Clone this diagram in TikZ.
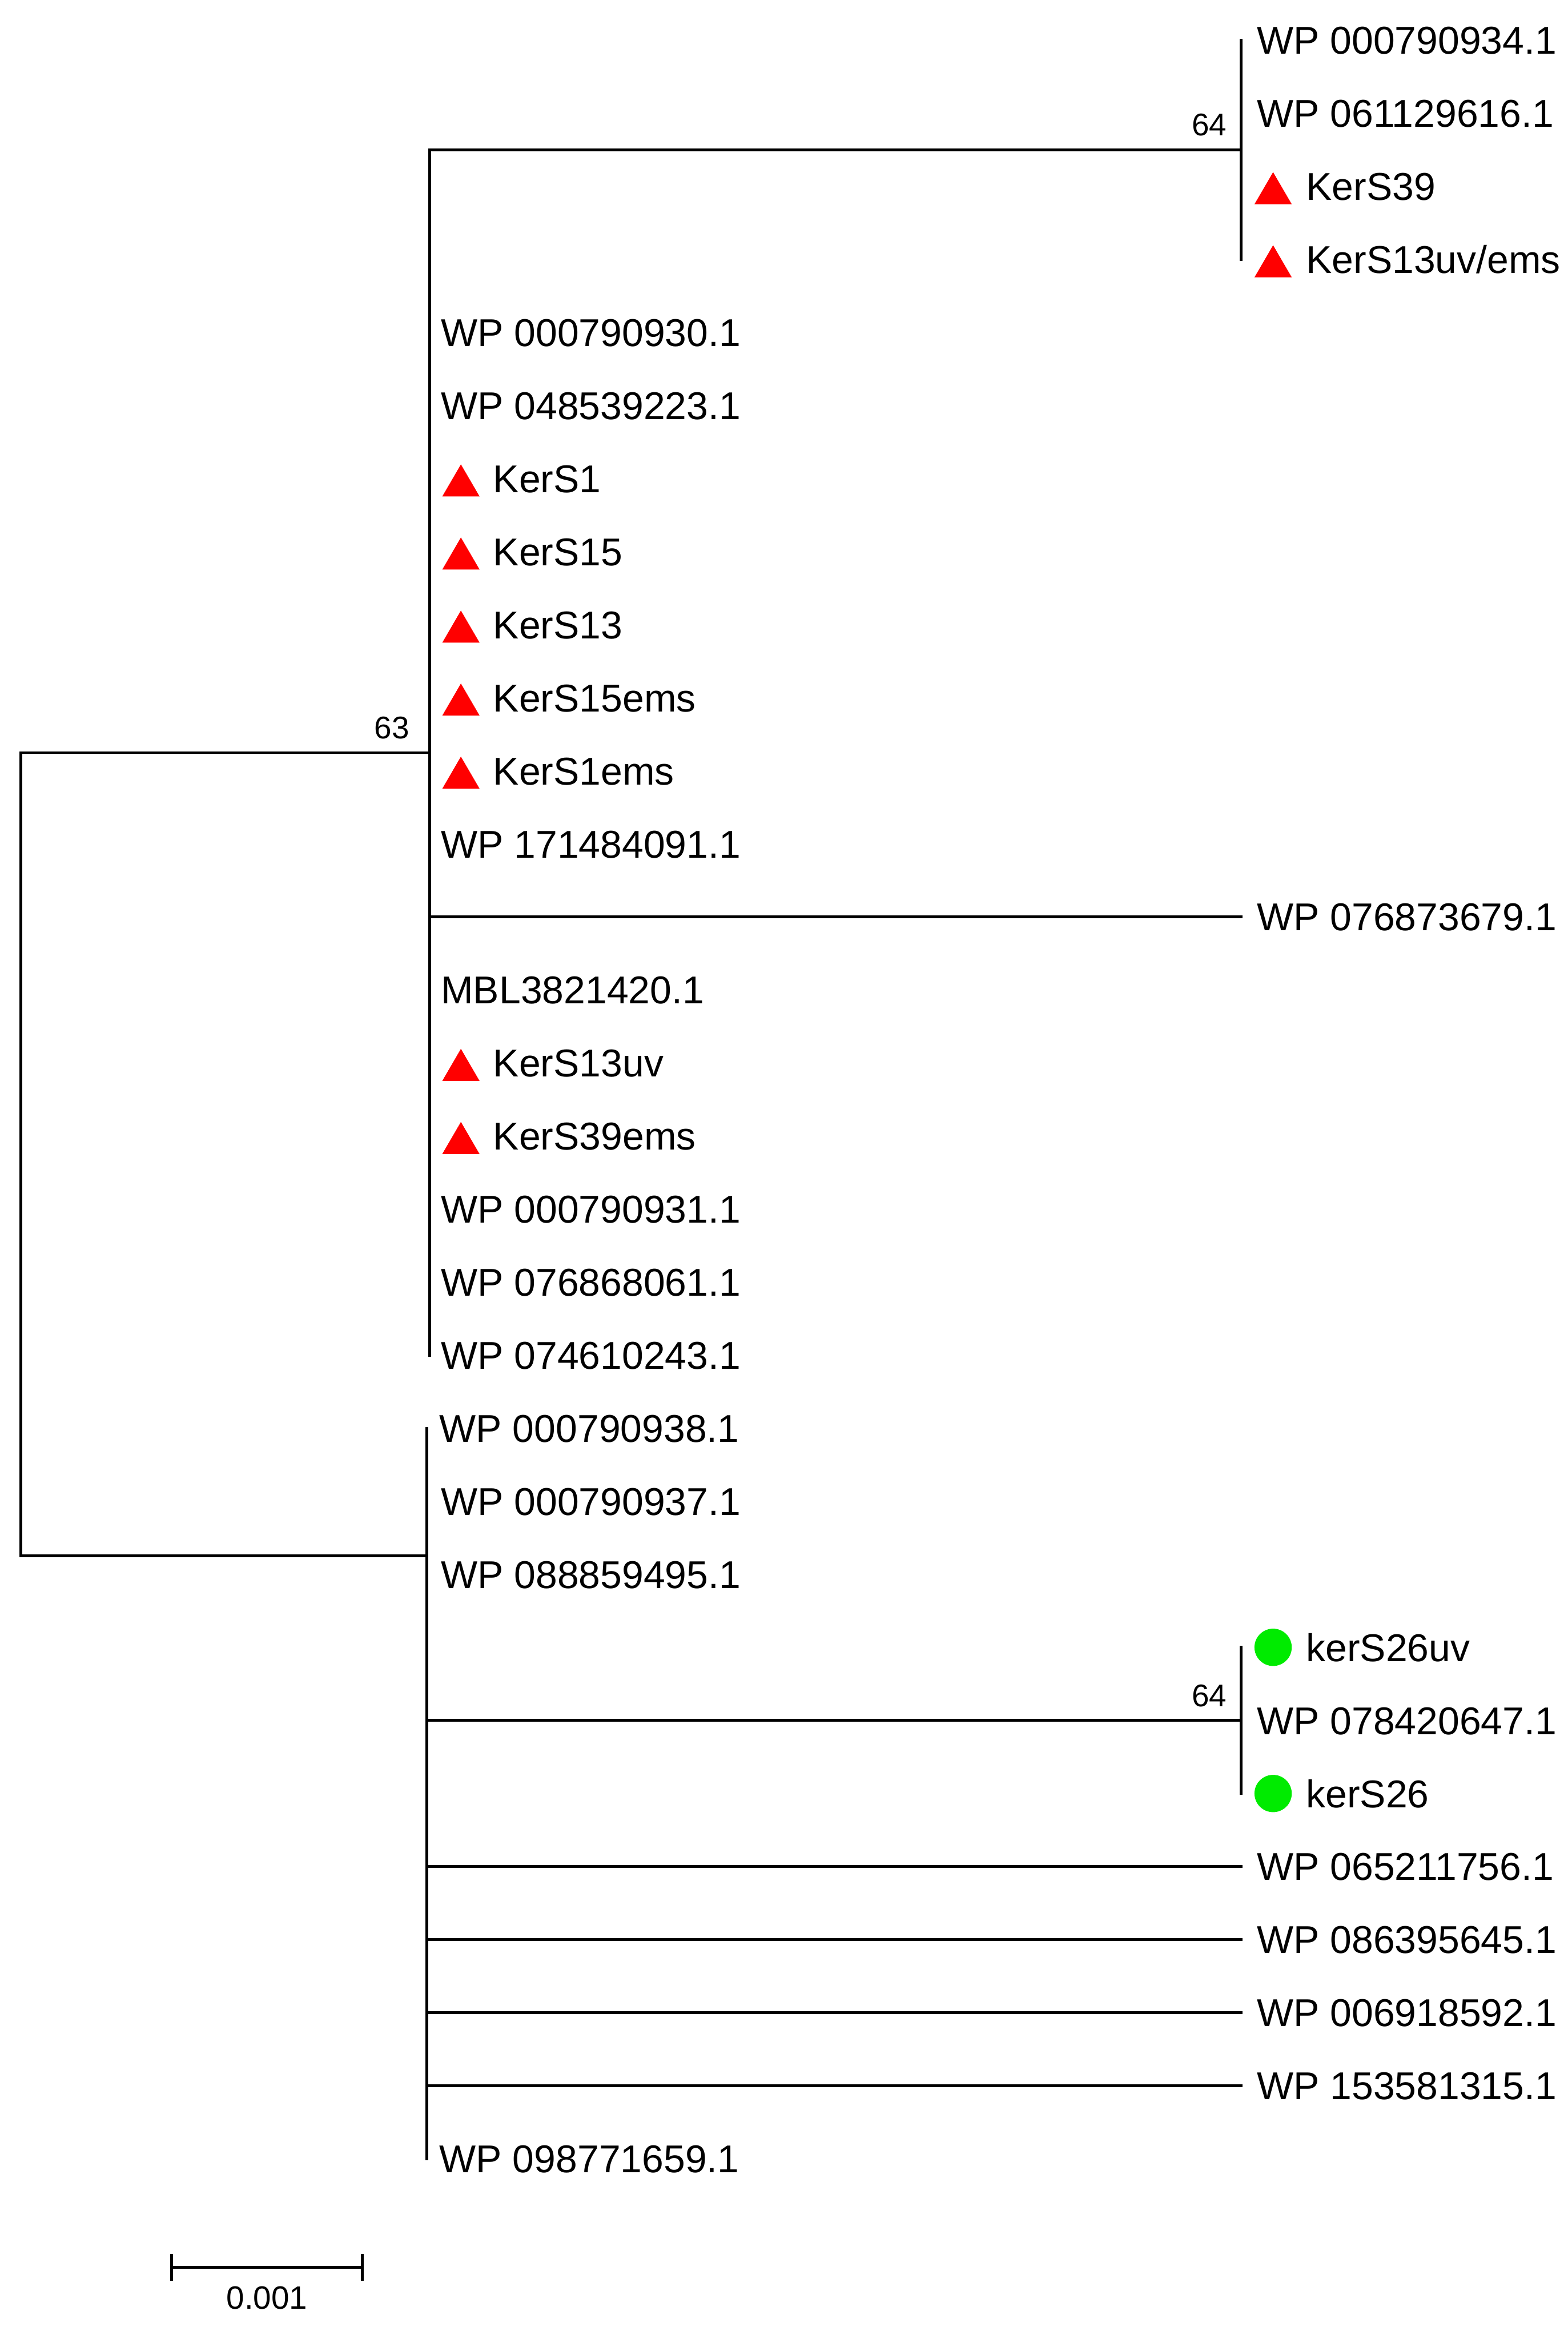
\documentclass[tikz,border=0pt]{standalone}
\usepackage{fontspec}
\setmainfont{Liberation Sans}
\begin{document}
\begin{tikzpicture}[x=0.3pt,y=-0.3pt,
  br/.style={line width=0.55pt, line cap=rect},
  lab/.style={anchor=base west, inner sep=0pt, font=\fontsize{7.8}{9}\selectfont},
  boot/.style={anchor=base east, inner sep=0pt, font=\fontsize{6.3}{7}\selectfont},
  tri/.style={fill={rgb,255:red,255;green,0;blue,0}},
  gdot/.style={fill={rgb,255:red,0;green,235;blue,0}, draw=none, circle, inner sep=0pt, minimum size=7.5pt}]
\useasboundingbox (0,0) rectangle (1051,1568);
% ---- internal nodes / coordinates ----
\coordinate (rtop) at (14,504.5);
\coordinate (rbot) at (14,1043);
\coordinate (nA) at (288,504.5);
\coordinate (nAtop) at (288,100.4);
\coordinate (nAbot) at (288,908.5);
\coordinate (nB0) at (288,100.4);
\coordinate (nB) at (832,100.4);
\coordinate (nBtop) at (832,27);
\coordinate (nBbot) at (832,173.9);
\coordinate (t13a) at (288,614.6);
\coordinate (t13) at (832,614.6);
\coordinate (nC) at (286,1043);
\coordinate (nCtop) at (286,957.4);
\coordinate (nCbot) at (286,1447.1);
\coordinate (nD0) at (286,1153.3);
\coordinate (nD) at (832,1153.3);
\coordinate (nDtop) at (832,1104.3);
\coordinate (nDbot) at (832,1202.3);
\coordinate (t26a) at (286,1251.2);
\coordinate (t26) at (832,1251.2);
\coordinate (t27a) at (286,1300.2);
\coordinate (t27) at (832,1300.2);
\coordinate (t28a) at (286,1349.2);
\coordinate (t28) at (832,1349.2);
\coordinate (t29a) at (286,1398.1);
\coordinate (t29) at (832,1398.1);
% ---- branches ----
\draw[br] (rtop) -- (rbot);
\draw[br] (rtop) -- (nA);
\draw[br] (nAtop) -- (nAbot);
\draw[br] (nB0) -- (nB);
\draw[br] (nBtop) -- (nBbot);
\draw[br] (t13a) -- (t13);
\draw[br] (rbot) -- (nC);
\draw[br] (nCtop) -- (nCbot);
\draw[br] (nD0) -- (nD);
\draw[br] (nDtop) -- (nDbot);
\draw[br] (t26a) -- (t26);
\draw[br] (t27a) -- (t27);
\draw[br] (t28a) -- (t28);
\draw[br] (t29a) -- (t29);
% ---- bootstrap values ----
\node[boot] (b1) at (823,91) {64};
\node[boot] (b2) at (275,495) {63};
\node[boot] (b3) at (823,1144) {64};
% ---- upper right clade ----
\node[lab] (l1) at (842,36.3) {WP 000790934.1};
\node[lab] (l2) at (842,85.3) {WP 061129616.1};
\fill[tri] (841,136.9) -- (866,136.9) -- (853.5,115.4) -- cycle;
\node[lab] (l3) at (875,134.2) {KerS39};
\fill[tri] (841,185.9) -- (866,185.9) -- (853.5,164.4) -- cycle;
\node[lab] (l4) at (875,183.2) {KerS13uv/ems};
% ---- upper left clade ----
\node[lab] (l5) at (295,232.2) {WP 000790930.1};
\node[lab] (l6) at (295,281.2) {WP 048539223.1};
\fill[tri] (296.5,332.8) -- (321.5,332.8) -- (309,311.3) -- cycle;
\node[lab] (l7) at (330,330.1) {KerS1};
\fill[tri] (296.5,381.8) -- (321.5,381.8) -- (309,360.3) -- cycle;
\node[lab] (l8) at (330,379.1) {KerS15};
\fill[tri] (296.5,430.8) -- (321.5,430.8) -- (309,409.3) -- cycle;
\node[lab] (l9) at (330,428.1) {KerS13};
\fill[tri] (296.5,479.7) -- (321.5,479.7) -- (309,458.2) -- cycle;
\node[lab] (l10) at (330,477.0) {KerS15ems};
\fill[tri] (296.5,528.7) -- (321.5,528.7) -- (309,507.2) -- cycle;
\node[lab] (l11) at (330,526.0) {KerS1ems};
\node[lab] (l12) at (295,575.0) {WP 171484091.1};
\node[lab] (l13) at (842,623.9) {WP 076873679.1};
\node[lab] (l14) at (295,672.9) {MBL3821420.1};
\fill[tri] (296.5,724.6) -- (321.5,724.6) -- (309,703.1) -- cycle;
\node[lab] (l15) at (330,721.9) {KerS13uv};
\fill[tri] (296.5,773.6) -- (321.5,773.6) -- (309,752.1) -- cycle;
\node[lab] (l16) at (330,770.9) {KerS39ems};
\node[lab] (l17) at (295,819.8) {WP 000790931.1};
\node[lab] (l18) at (295,868.8) {WP 076868061.1};
\node[lab] (l19) at (295,917.8) {WP 074610243.1};
% ---- lower clade ----
\node[lab] (l20) at (294,966.7) {WP 000790938.1};
\node[lab] (l21) at (295,1015.7) {WP 000790937.1};
\node[lab] (l22) at (295,1064.7) {WP 088859495.1};
\node[gdot] (g23) at (853.5,1104.3) {};
\node[lab] (l23) at (875,1113.6) {kerS26uv};
\node[lab] (l24) at (842,1162.6) {WP 078420647.1};
\node[gdot] (g25) at (853.5,1202.3) {};
\node[lab] (l25) at (875,1211.6) {kerS26};
\node[lab] (l26) at (842,1260.5) {WP 065211756.1};
\node[lab] (l27) at (842,1309.5) {WP 086395645.1};
\node[lab] (l28) at (842,1358.5) {WP 006918592.1};
\node[lab] (l29) at (842,1407.4) {WP 153581315.1};
\node[lab] (l30) at (294,1456.4) {WP 098771659.1};
% ---- scale bar ----
\coordinate (sb1) at (115,1520);
\coordinate (sb2) at (243,1520);
\draw[br] (sb1) -- (sb2);
\draw[br] ([yshift=8*0.3pt]sb1) -- ([yshift=-8*0.3pt]sb1);
\draw[br] ([yshift=8*0.3pt]sb2) -- ([yshift=-8*0.3pt]sb2);
\node[anchor=base, inner sep=0pt, font=\fontsize{6.5}{7}\selectfont] (sbl) at (179,1548) {0.001};
\end{tikzpicture}
\end{document}
